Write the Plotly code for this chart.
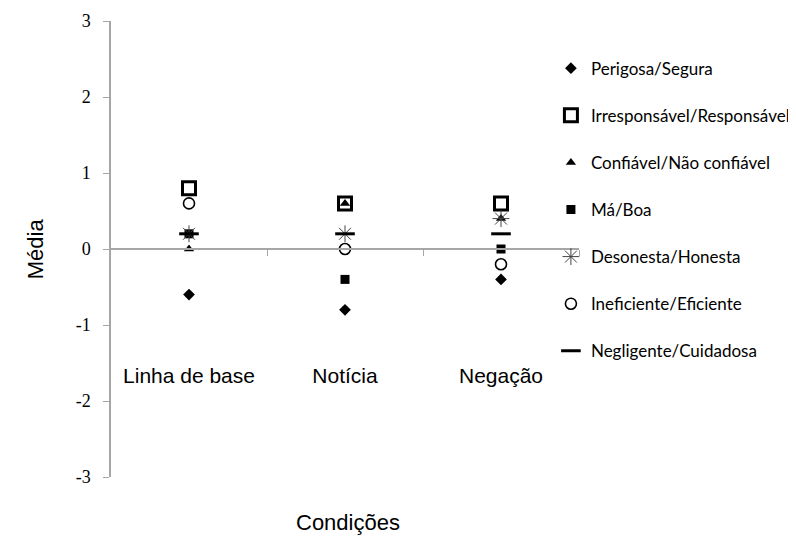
import plotly.graph_objects as go

categorias = ["Linha de base", "Notícia", "Negação"]
series_nomes = [
    "Perigosa/Segura",
    "Irresponsável/Responsável",
    "Confiável/Não confiável",
    "Má/Boa",
    "Desonesta/Honesta",
    "Ineficiente/Eficiente",
    "Negligente/Cuidadosa",
]
perigosa = [-0.6, -0.8, -0.4]
irresponsavel = [0.8, 0.6, 0.6]
confiavel = [0.0, 0.6, 0.4]
ma_boa = [0.2, -0.4, 0.0]
desonesta = [0.2, 0.2, 0.4]
ineficiente = [0.6, 0.0, -0.2]
negligente = [0.2, 0.2, 0.2]
valores = [perigosa, irresponsavel, confiavel, ma_boa, desonesta, ineficiente, negligente]

y_ticks = [-3, -2, -1, 0, 1, 2, 3]
y_ticktext = ["-3", "-2", "-1", "0", "1", "2", "3"]

estilos = [
    dict(symbol="diamond", size=9, color="black", line=dict(width=0)),
    dict(symbol="square-open", size=13, color="black", line=dict(width=3, color="black")),
    dict(symbol="triangle-up", size=9, color="black", line=dict(width=0)),
    dict(symbol="square", size=9, color="black", line=dict(width=0)),
    dict(symbol="asterisk-open", size=14, color="#444444", line=dict(width=1, color="#444444")),
    dict(symbol="circle-open", size=11, color="black", line=dict(width=1.6, color="black")),
    dict(symbol="line-ew-open", size=14, color="black", line=dict(width=3, color="black")),
]

fig = go.Figure()
for i, (nome, vals) in enumerate(zip(series_nomes, valores)):
    fig.add_trace(go.Scatter(
        x=categorias, y=vals, mode="markers", name=nome,
        legendgroup=nome, marker=estilos[i], cliponaxis=False,
    ))

# linear overlay axis to draw the zero line with ticks at category boundaries
fig.add_trace(go.Scatter(x=[-0.5, 2.5], y=[0, 0], mode="lines", xaxis="x2",
                         line=dict(color="rgba(0,0,0,0)"), showlegend=False,
                         hoverinfo="skip"))

fig.update_layout(
    width=788, height=528,
    margin=dict(l=103, r=217, t=13, b=59, autoexpand=False),
    paper_bgcolor="white", plot_bgcolor="white",
    showlegend=True,
    legend=dict(x=0.94, xanchor="left", y=0.935, yanchor="top",
                font=dict(family="Lato, Liberation Sans, Arial", size=17, color="black"),
                tracegroupgap=22, traceorder="grouped", itemwidth=30,
                bgcolor="rgba(0,0,0,0)"),
    xaxis=dict(type="category", range=[-0.5, 2.5], anchor="free", position=0.255,
               showline=False, showgrid=False, zeroline=False, ticks="", automargin=False,
               tickfont=dict(family="Liberation Sans, Arial", size=21, color="black")),
    xaxis2=dict(overlaying="x", range=[-0.5, 2.5], anchor="free", position=0.5,
                showline=True, linecolor="#a6a6a6", linewidth=1.5, automargin=False,
                tickvals=[0.5, 1.5, 2.5], ticks="outside", ticklen=6, tickcolor="#a6a6a6",
                showticklabels=False, showgrid=False, zeroline=False),
    yaxis=dict(range=[-3, 3], tickvals=y_ticks, ticktext=y_ticktext, automargin=False,
               showline=True, linecolor="#a6a6a6", linewidth=1.5,
               ticks="outside", ticklen=6, tickcolor="#a6a6a6", ticklabelstandoff=9,
               showgrid=False, zeroline=False,
               tickfont=dict(family="Liberation Serif, Times New Roman", size=18, color="black")),
    annotations=[
        dict(text="Média", xref="paper", yref="paper", x=-0.165, xshift=-13, y=0.5, textangle=-90,
             showarrow=False, font=dict(family="Liberation Sans, Arial", size=22, color="black")),
        dict(text="Condições", xref="paper", yref="paper", x=0.5, xshift=3, y=-0.1, yanchor="middle",
             showarrow=False, font=dict(family="Liberation Sans, Arial", size=22, color="black")),
    ],
)

fig.write_html("out.html")
